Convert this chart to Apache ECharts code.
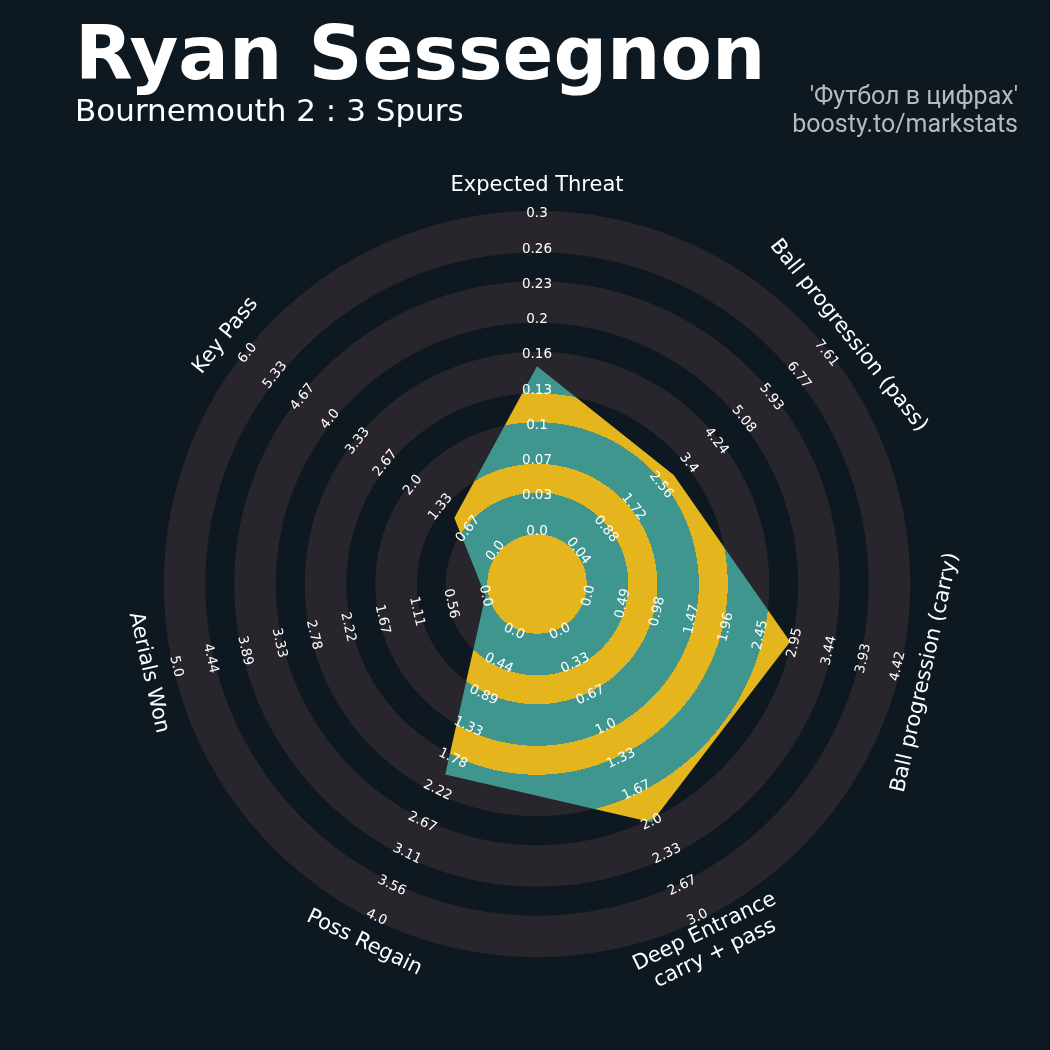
<!DOCTYPE html>
<html>
<head>
<meta charset="utf-8">
<script src="https://cdn.jsdelivr.net/npm/echarts@6/dist/echarts.min.js"></script>
<style>
html,body{margin:0;padding:0;background:#0e1820;}
#chart{width:1050px;height:1050px;}
</style>
</head>
<body>
<div id="chart"></div>
<script>
// ---------- DATA (clockwise from top) ----------
const params = [
  'Expected Threat',
  'Ball progression (pass)',
  'Ball progression (carry)',
  'Deep Entrance\ncarry + pass',
  'Poss Regain',
  'Aerials Won',
  'Key Pass'
];
const minRange = [0, 0.04, 0, 0, 0, 0, 0];
const maxRange = [0.3, 7.61, 4.42, 3.0, 4.0, 5.0, 6.0];
const playerValues = [0.156, 2.95, 2.88, 2.0, 2.0, 0.0, 1.0];

const ticksET   = ['0.0','0.03','0.07','0.1','0.13','0.16','0.2','0.23','0.26','0.3'];
const ticksBPP  = ['0.04','0.88','1.72','2.56','3.4','4.24','5.08','5.93','6.77','7.61'];
const ticksBPC  = ['0.0','0.49','0.98','1.47','1.96','2.45','2.95','3.44','3.93','4.42'];
const ticksDE   = ['0.0','0.33','0.67','1.0','1.33','1.67','2.0','2.33','2.67','3.0'];
const ticksPR   = ['0.0','0.44','0.89','1.33','1.78','2.22','2.67','3.11','3.56','4.0'];
const ticksAW   = ['0.0','0.56','1.11','1.67','2.22','2.78','3.33','3.89','4.44','5.0'];
const ticksKP   = ['0.0','0.67','1.33','2.0','2.67','3.33','4.0','4.67','5.33','6.0'];
const tickLabels = [ticksET, ticksBPP, ticksBPC, ticksDE, ticksPR, ticksAW, ticksKP];

const titleText = 'Ryan Sessegnon';
const subtitleText = 'Bournemouth 2 : 3 Spurs';
const creditLines = ["'Футбол в цифрах'", 'boosty.to/markstats'];

// ---------- STYLE / LAYOUT ----------
const BG = '#0e1820', RING = '#28252c', TEAL = '#3e968f', YELLOW = '#e4b51c';
const CX = 537, CY = 584, U = 35.25;      // px per ring unit
const R_OUT = 11.5;                        // polar extent in ring units
const V0 = 1.5, V1 = 10.5;                 // min / max value radius in ring units
const PAD = 0.09;
const LABEL_R = 11.3;

const n = params.length;
const angles = params.map((_, i) => i * 360 / n);   // clockwise from top

const grayRings = [];
for (let k = 0; k < 5; k++) grayRings.push([V0 + 2 * k - PAD, V0 + 2 * k + 1 + PAD]);

// gradient: teal where background ring is grey, yellow elsewhere
const stops = [];
const push = (u, c) => stops.push({ offset: Math.min(1, u / R_OUT), color: c });
push(0, YELLOW);
grayRings.forEach(([a, b]) => { push(a, YELLOW); push(a, TEAL); push(b, TEAL); push(b, YELLOW); });
push(R_OUT, YELLOW);
const polyFill = { type: 'radial', x: CX, y: CY, r: R_OUT * U, global: true, colorStops: stops };

// radar indicators (ECharts radar runs counter-clockwise)
const ccw = [0];
for (let i = n - 1; i >= 1; i--) ccw.push(i);
const indicators = ccw.map(i => {
  const span = maxRange[i] - minRange[i];
  return { name: params[i], min: minRange[i] - span * V0 / (V1 - V0), max: maxRange[i] };
});

function rot(a) {
  let r = a;
  if (a > 90 && a < 270) r = a - 180;
  return -r * Math.PI / 180;
}

// label items
const labelItems = [];
tickLabels.forEach((arr, p) => {
  arr.forEach((t, i) => {
    labelItems.push({ r: V0 + i * (V1 - V0) / (arr.length - 1), a: angles[p], text: t, font: '13.5px "DejaVu Sans"', lh: 15 });
  });
});
params.forEach((t, p) => {
  labelItems.push({ r: LABEL_R, a: angles[p], text: t, font: '21px "DejaVu Sans"', lh: 24 });
});

const chart = echarts.init(document.getElementById('chart'), null, { renderer: 'canvas' });

const hiddenAxis = { axisLine: { show: false }, axisTick: { show: false }, axisLabel: { show: false }, splitLine: { show: false }, splitArea: { show: false } };

chart.setOption({
  backgroundColor: BG,
  animation: false,
  polar: { center: [CX, CY], radius: R_OUT * U },
  radiusAxis: Object.assign({ type: 'value', min: 0, max: R_OUT }, hiddenAxis),
  angleAxis: Object.assign({ type: 'value', min: 0, max: 360, startAngle: 90, clockwise: true }, hiddenAxis),
  radar: {
    center: [CX, CY],
    radius: V1 * U,
    startAngle: 90,
    indicator: indicators,
    axisName: { show: false },
    axisLine: { show: false },
    axisTick: { show: false },
    axisLabel: { show: false },
    splitLine: { show: false },
    splitArea: { show: false }
  },
  graphic: [
    { type: 'text', x: 75, y: 60, silent: true,
      style: { text: titleText, font: 'bold 75px "DejaVu Sans"', fill: '#ffffff', align: 'left', textAlign: 'left', verticalAlign: 'middle', textVerticalAlign: 'middle' } },
    { type: 'text', x: 75, y: 113, silent: true,
      style: { text: subtitleText, font: '31px "DejaVu Sans"', fill: '#ffffff', align: 'left', textAlign: 'left', verticalAlign: 'middle', textVerticalAlign: 'middle' } },
    { type: 'text', x: 1018, y: 98, silent: true,
      style: { text: creditLines[0], font: '25px Roboto', fill: '#b6babe', align: 'right', textAlign: 'right', verticalAlign: 'middle', textVerticalAlign: 'middle' } },
    { type: 'text', x: 1018, y: 126, silent: true,
      style: { text: creditLines[1], font: '25px Roboto', fill: '#b6babe', align: 'right', textAlign: 'right', verticalAlign: 'middle', textVerticalAlign: 'middle' } }
  ],
  series: [
    {
      type: 'custom', coordinateSystem: 'polar', z: 1, silent: true,
      data: grayRings.map(g => [g[1], 0, g[0]]),
      dimensions: ['radius', 'angle', 'inner'],
      encode: { radius: 0, angle: 1 },
      renderItem: function (p, api) {
        const c = api.coord([0, 0]);
        const o = api.coord([api.value(0), 0]);
        const q = api.coord([api.value(2), 0]);
        const d = (a, b) => Math.hypot(a[0] - b[0], a[1] - b[1]);
        return { type: 'ring', shape: { cx: c[0], cy: c[1], r: d(c, o), r0: d(c, q) }, style: { fill: RING } };
      }
    },
    {
      type: 'radar', z: 2, silent: true,
      symbol: 'none',
      lineStyle: { width: 0, opacity: 0 },
      areaStyle: { color: polyFill, opacity: 1 },
      data: [{ value: ccw.map(i => playerValues[i]), name: titleText }]
    },
    {
      type: 'custom', coordinateSystem: 'polar', z: 3, silent: true,
      data: labelItems.map(l => [l.r, l.a]),
      encode: { radius: 0, angle: 1 },
      renderItem: function (p, api) {
        const it = labelItems[p.dataIndex];
        const pt = api.coord([api.value(0), api.value(1)]);
        return {
          type: 'text', x: pt[0], y: pt[1], rotation: rot(it.a),
          style: { text: it.text, font: it.font, fill: '#ffffff', lineHeight: it.lh,
                   align: 'center', textAlign: 'center', verticalAlign: 'middle', textVerticalAlign: 'middle' }
        };
      }
    }
  ]
});
</script>
</body>
</html>
